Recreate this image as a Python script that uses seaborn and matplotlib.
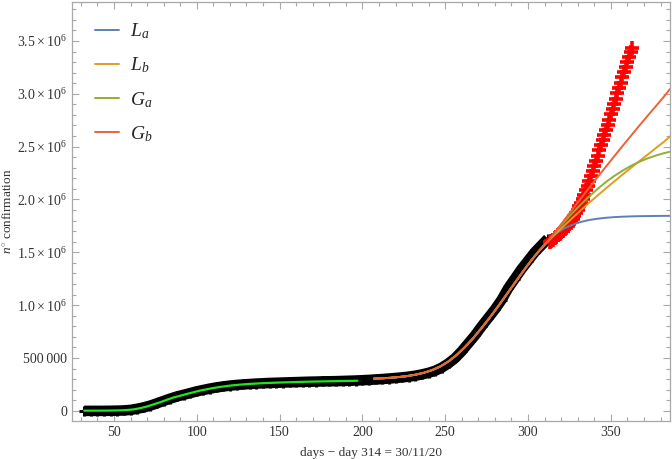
import numpy as np
import pandas as pd
import seaborn as sns
import matplotlib.pyplot as plt
from matplotlib.ticker import MultipleLocator, FuncFormatter

# observed cases (black), every 4 days, values in thousands
obs_days = [32, 36, 40, 44, 48, 52, 56, 60, 64, 68, 72, 76, 80, 84, 88, 92, 96, 100,
            104, 108, 112, 116, 120, 124, 128, 132, 136, 140, 144, 148, 152, 156, 160,
            164, 168, 172, 176, 180, 184, 188, 192, 196, 200, 204, 208, 212, 216, 220,
            224, 228, 232, 236, 240, 244, 248, 252, 256, 260, 264, 268, 272, 276, 280,
            284, 288, 292, 296, 300, 304, 308, 312]
obs_vals = [0, 0, 0, 0, 1, 2, 4, 9, 20, 33, 50, 72, 94, 116, 136, 152, 168, 185,
            198, 211, 222, 231, 239, 245, 250, 254, 258, 261, 264, 266, 268, 270, 272,
            274, 276, 277, 279, 280, 281, 283, 285, 287, 290, 293, 297, 301, 306, 311,
            317, 324, 333, 345, 360, 380, 410, 450, 500, 565, 640, 715, 800, 880, 960,
            1050, 1160, 1250, 1340, 1420, 1500, 1565, 1630]

# later observations (red), daily
new_days = list(range(313, 364))
new_vals = [1595, 1608, 1620, 1635, 1648, 1662, 1676, 1690, 1703, 1716, 1730, 1750,
            1772, 1795, 1820, 1846, 1874, 1903, 1934, 1968, 2005, 2045, 2088, 2132,
            2178, 2224, 2270, 2318, 2366, 2415, 2465, 2515, 2563, 2610, 2658, 2706,
            2755, 2805, 2855, 2905, 2955, 3005, 3055, 3105, 3155, 3205, 3255, 3305,
            3350, 3395, 3435]

# first wave fit (green)
wave1_days = [32, 40, 48, 54, 58, 62, 66, 70, 74, 78, 82, 86, 90, 94, 98, 102, 106,
              110, 114, 118, 122, 126, 132, 140, 150, 160, 170, 180, 190, 197]
wave1_vals = [2, 2, 3, 5, 8, 14, 26, 42, 62, 82, 105, 127, 143, 160, 176, 192, 204,
              216, 226, 235, 242, 248, 255, 262, 268, 273, 277, 280, 283, 285]

# second wave fits
fit_days = [207, 212, 217, 222, 227, 232, 237, 242, 247, 252, 257, 262, 267, 272, 277,
            282, 287, 292, 297, 302, 307, 312, 317, 322, 327, 332, 337, 342, 347, 352,
            357, 362, 367, 372, 377, 382, 386]
common = [305, 308, 313, 320, 329, 342, 360, 385, 420, 468, 530, 605, 690, 785, 885,
          990, 1100, 1210, 1320, 1425, 1520, 1605]
La_vals = common + [1680, 1728, 1762, 1788, 1806, 1818, 1827, 1833, 1837, 1840, 1842,
                    1843, 1844, 1845, 1845]
Lb_vals = common + [1680, 1755, 1828, 1900, 1970, 2038, 2105, 2170, 2235, 2298, 2360,
                    2422, 2484, 2545, 2600]
Ga_vals = common + [1700, 1790, 1875, 1955, 2030, 2100, 2165, 2222, 2272, 2317, 2355,
                    2388, 2415, 2438, 2453]
Gb_vals = common + [1705, 1808, 1910, 2012, 2112, 2212, 2310, 2408, 2505, 2600, 2695,
                    2788, 2880, 2972, 3050]

fit_names = ['$L_a$', '$L_b$', '$G_a$', '$G_b$']
fit_colors = ['#5E81B5', '#E19C24', '#8FB032', '#EB6235']

sns.set_style('ticks')
plt.rcParams['font.family'] = ['Liberation Serif', 'DejaVu Serif']
plt.rcParams['mathtext.fontset'] = 'custom'
plt.rcParams['mathtext.rm'] = 'Liberation Serif'
plt.rcParams['mathtext.it'] = 'Liberation Serif:italic'

fig = plt.figure(figsize=(6.72, 4.59), dpi=100)
ax = fig.add_axes([0.107, 0.083, 0.89, 0.913])

obs = pd.DataFrame({'day': obs_days, 'n': np.array(obs_vals) * 1000})
new = pd.DataFrame({'day': new_days, 'n': np.array(new_vals) * 1000})
wave1 = pd.DataFrame({'day': wave1_days, 'n': np.array(wave1_vals) * 1000})

# thick black band for the observed series, with + markers roughening the edge
sns.lineplot(data=obs, x='day', y='n', color='black', lw=7.6, ax=ax,
             solid_capstyle='butt')
ax.plot(obs['day'], obs['n'], ls='none', marker='+', ms=7, mew=2.2, color='black')
sns.lineplot(data=wave1, x='day', y='n', color='#1EE61E', lw=1.6, ax=ax)
ax.plot(new['day'], new['n'], ls='none', marker='+', ms=9.5, mew=2.6, color='#FF0000')

for name, vals, col in zip(fit_names, [La_vals, Lb_vals, Ga_vals, Gb_vals], fit_colors):
    ax.plot(fit_days, np.array(vals) * 1000, color=col, lw=1.4, label=name)

ax.set_xlim(24.6, 385.7)
ax.set_ylim(-95000, 3.87e6)

def yfmt(v, pos):
    if abs(v) < 1:
        return '0'
    if abs(v - 500000) < 1:
        return '500\u2009000'
    return r'$%.1f\times10^{6}$' % (v / 1e6)

ax.xaxis.set_major_locator(MultipleLocator(50))
ax.xaxis.set_minor_locator(MultipleLocator(10))
ax.yaxis.set_major_locator(MultipleLocator(500000))
ax.yaxis.set_minor_locator(MultipleLocator(100000))
ax.yaxis.set_major_formatter(FuncFormatter(yfmt))

for s in ax.spines.values():
    s.set_color('#A8A8A8')
    s.set_linewidth(0.9)
ax.tick_params(which='both', direction='in', top=True, right=True, color='#A8A8A8',
               labelsize=10, labelcolor='#333333', width=0.8)
ax.tick_params(which='major', length=5)
ax.tick_params(which='minor', length=3)

ax.set_xlabel('days \u2212 day 314 = 30/11/20', fontsize=9.5, color='#333333', labelpad=6)
ax.set_ylabel(r'$n^{\circ}$ confirmation', fontsize=9.5, color='#333333', labelpad=2)

ax.legend(loc='upper left', bbox_to_anchor=(0.01, 0.995), frameon=False, fontsize=14,
          handlelength=1.2, handletextpad=0.6, labelspacing=0.75)

fig.savefig('out.png', dpi=100)
